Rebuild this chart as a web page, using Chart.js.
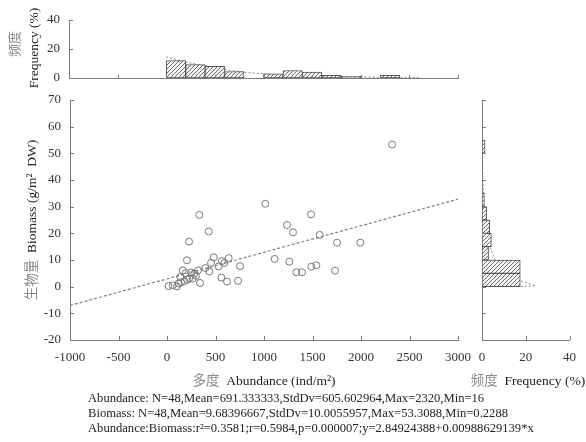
<!DOCTYPE html>
<html><head><meta charset="utf-8">
<script src="https://cdn.jsdelivr.net/npm/chart.js@4.4.1/dist/chart.umd.min.js"></script>
<style>
html,body{margin:0;padding:0;background:#fff;}
#wrap{position:relative;width:586px;height:442px;overflow:hidden;background:#fff;}
canvas{position:absolute;left:0;top:0;}
.t{position:absolute;white-space:nowrap;font-family:"Liberation Serif","Times New Roman",serif;color:#222;line-height:1;}
.cn{font-family:"Noto Sans CJK SC",sans-serif;color:#8a8a8a;}
.rot{transform:translate(-50%,-50%) rotate(-90deg);}
.ctr{transform:translate(-50%,-50%);}
</style></head><body>
<div id="wrap">
<canvas id="cTop" width="586" height="442"></canvas>
<canvas id="cMain" width="586" height="442"></canvas>
<canvas id="cRight" width="586" height="442"></canvas>
<div class="t rot" style="left:14px;top:44px;font-size:13px"><span class="cn">频度</span></div>
<div class="t rot" style="left:34px;top:48px;font-size:13.5px">Frequency (%)</div>
<div class="t rot" style="left:31px;top:220px;font-size:13.5px"><span class="cn">生物量</span>&nbsp; Biomass (g/m²&nbsp; DW)</div>
<div class="t ctr" style="left:264px;top:380px;font-size:13.5px"><span class="cn">多度</span>&nbsp; Abundance (ind/m²)</div>
<div class="t ctr" style="left:528px;top:380px;font-size:13.5px"><span class="cn">频度</span>&nbsp; Frequency (%)</div>
<div class="t" style="left:88px;top:392px;font-size:12.6px">Abundance: N=48,Mean=691.333333,StdDv=605.602964,Max=2320,Min=16</div>
<div class="t" style="left:88px;top:407px;font-size:12.6px">Biomass: N=48,Mean=9.68396667,StdDv=10.0055957,Max=53.3088,Min=0.2288</div>
<div class="t" style="left:88px;top:422px;font-size:12.6px">Abundance:Biomass:r²=0.3581;r=0.5984,p=0.000007;y=2.84924388+0.00988629139*x</div>
</div>
<script>
// ---- data ----
const abundance = [16, 59, 103, 144, 179, 137, 230, 299, 282, 193, 162, 320, 340, 206, 227, 333, 430, 481, 454, 436, 533, 560, 591, 636, 619, 732, 753,
  1013, 1110, 1237, 1261, 1299, 1333, 1392, 1485, 1488, 1540, 1574, 1732, 1753, 1993, 2320,
  250, 265, 210, 120, 565, 395];
const biomass = [0.23, 0.5, 0.1, 1.6, 2.1, 3.6, 3.1, 4.1, 4.9, 5.1, 6.1, 6.1, 1.4, 9.9, 16.9, 26.9, 20.7, 11.0, 8.9, 5.7, 7.6, 3.4, 8.9, 10.7, 1.9, 2.2, 7.7,
  31.1, 10.4, 23.1, 9.4, 20.4, 5.4, 5.4, 27.1, 7.5, 8.0, 19.4, 6.0, 16.5, 16.5, 53.3,
  5.3, 3.0, 2.6, 1.2, 9.6, 7.0];
const regX = [-1000, 3000];
const regY = [-7.04, 32.81];

const abBinCenters = [100, 300, 500, 700, 900, 1100, 1300, 1500, 1700, 1900, 2100, 2300];
const abBinFreq    = [12, 9.2, 8, 4.5, 0, 2.8, 5.2, 4, 1.8, 1.2, 0, 1.8];
const abCurveX = [0, 200, 400, 600, 800, 1000, 1200, 1400, 1600, 1800, 2000, 2200, 2400, 2600];
const abCurveY = [14.5, 11, 8.5, 6, 4, 2.9, 2.2, 1.6, 1.2, 0.9, 0.7, 0.5, 0.4, 0.3];

const bmBinCenters = [2.5, 7.5, 12.5, 17.5, 22.5, 27.5, 32.5, 37.5, 42.5, 47.5, 52.5];
const bmBinFreq    = [17.5, 17.5, 3, 4.3, 3.5, 2.2, 1.1, 0, 0, 0, 1.4];
const bmCurveY = [55, 40, 30, 25, 20, 15, 10, 6.4, 3, 0.3, 0];
const bmCurveX = [0.2, 0.4, 0.7, 1.2, 2, 3.5, 6, 9, 15, 24.5, 17.5];

const mainXTicks = [-1000, 3000, 500];
const mainYTicks = [-20, 70, 10];
const topYTicks = [0, 40, 20];
const rightXTicks = [0, 40, 20];

// ---- styles ----
const AX = '#7a7a7a';
const FONT = {family: 'Liberation Serif', size: 13};
const TICKCOL = '#333';

function hatch() {
  const n = 4;
  const c = document.createElement('canvas');
  c.width = n; c.height = n;
  const g = c.getContext('2d');
  g.fillStyle = '#f4f4f4'; g.fillRect(0, 0, n, n);
  g.strokeStyle = '#6e6e6e'; g.lineWidth = 1;
  g.beginPath();
  g.moveTo(0, n); g.lineTo(n, 0);
  g.moveTo(-1, 1); g.lineTo(1, -1);
  g.moveTo(n - 1, n + 1); g.lineTo(n + 1, n - 1);
  g.stroke();
  return g.createPattern(c, 'repeat');
}
const pat = hatch();

const inTicks = {
  id: 'inTicks',
  afterDraw(chart, args, opts) {
    const ctx = chart.ctx, ca = chart.chartArea;
    ctx.save();
    ctx.strokeStyle = AX; ctx.lineWidth = 1;
    ctx.beginPath();
    for (const id of Object.keys(opts.axes || {})) {
      const s = chart.scales[id]; const len = opts.axes[id];
      s.ticks.forEach(t => {
        const p = Math.round(s.getPixelForValue(t.value)) + 0.5;
        if (s.isHorizontal()) { ctx.moveTo(p, ca.bottom); ctx.lineTo(p, ca.bottom - len); }
        else { ctx.moveTo(ca.left, p); ctx.lineTo(ca.left + len, p); }
      });
    }
    ctx.stroke();
    ctx.restore();
  }
};

function axisOpts(range, showLabels, fitSize, horiz, pad) {
  return {
    type: 'linear', min: range[0], max: range[1],
    grid: {display: false, drawTicks: false},
    border: {display: true, color: AX, width: 1},
    ticks: {display: showLabels, stepSize: range[2], font: FONT, color: TICKCOL, padding: pad, maxRotation: 0, autoSkip: false,
      callback: v => String(v)},
    afterFit(s) { if (horiz) s.height = fitSize; else s.width = fitSize; }
  };
}

// ---- main scatter ----
new Chart(document.getElementById('cMain'), {
  type: 'scatter',
  data: {
    datasets: [
      {data: abundance.map((a, i) => ({x: a, y: biomass[i]})), pointRadius: 3.5, pointBorderColor: '#777', pointBackgroundColor: 'rgba(0,0,0,0)', pointBorderWidth: 1},
      {type: 'line', data: regX.map((a, i) => ({x: a, y: regY[i]})), borderColor: '#808080', borderWidth: 1.2, borderDash: [3, 2], pointRadius: 0, fill: false}
    ]
  },
  options: {
    responsive: false, animation: false, events: [],
    layout: {padding: {top: 100, right: 128, bottom: 72, left: 0}},
    plugins: {legend: {display: false}, tooltip: {enabled: false}, inTicks: {axes: {x: 4, y: 4}}},
    scales: {
      x: axisOpts(mainXTicks, true, 30, true, 10),
      y: axisOpts(mainYTicks, true, 70, false, 9)
    }
  },
  plugins: [inTicks]
});

// ---- top histogram ----
new Chart(document.getElementById('cTop'), {
  type: 'bar',
  data: {
    datasets: [
      {data: abBinCenters.map((c, i) => ({x: c, y: abBinFreq[i]})), backgroundColor: pat, borderColor: '#555', borderWidth: 1, borderSkipped: false, barPercentage: 1, categoryPercentage: 1},
      {type: 'line', data: abCurveX.map((c, i) => ({x: c, y: abCurveY[i]})), borderColor: '#8a8a8a', borderWidth: 1, borderDash: [2, 2], pointRadius: 0, tension: 0.3, fill: false}
    ]
  },
  options: {
    responsive: false, animation: false, events: [],
    layout: {padding: {top: 20, right: 128, bottom: 364, left: 0}},
    plugins: {legend: {display: false}, tooltip: {enabled: false}, inTicks: {axes: {x: 3, y: 4}}},
    scales: {
      x: Object.assign(axisOpts(mainXTicks, false, 0, true, 0), {offset: false}),
      y: axisOpts(topYTicks, true, 69, false, 9)
    }
  },
  plugins: [inTicks]
});

// ---- right histogram ----
new Chart(document.getElementById('cRight'), {
  type: 'bar',
  data: {
    datasets: [
      {data: bmBinCenters.map((c, i) => ({y: c, x: bmBinFreq[i]})), backgroundColor: pat, borderColor: '#555', borderWidth: 1, borderSkipped: false, barPercentage: 1, categoryPercentage: 1},
      {type: 'line', indexAxis: 'y', data: bmCurveY.map((c, i) => ({y: c, x: bmCurveX[i]})), borderColor: '#8a8a8a', borderWidth: 1, borderDash: [2, 2], pointRadius: 0, fill: false}
    ]
  },
  options: {
    indexAxis: 'y',
    responsive: false, animation: false, events: [],
    layout: {padding: {top: 100, right: 8, bottom: 72, left: 482}},
    plugins: {legend: {display: false}, tooltip: {enabled: false}, inTicks: {axes: {x: 4, y: 4}}},
    scales: {
      x: axisOpts(rightXTicks, true, 30, true, 10),
      y: Object.assign(axisOpts(mainYTicks, false, 0, false, 0), {offset: false})
    }
  },
  plugins: [inTicks]
});
</script>
</body></html>
